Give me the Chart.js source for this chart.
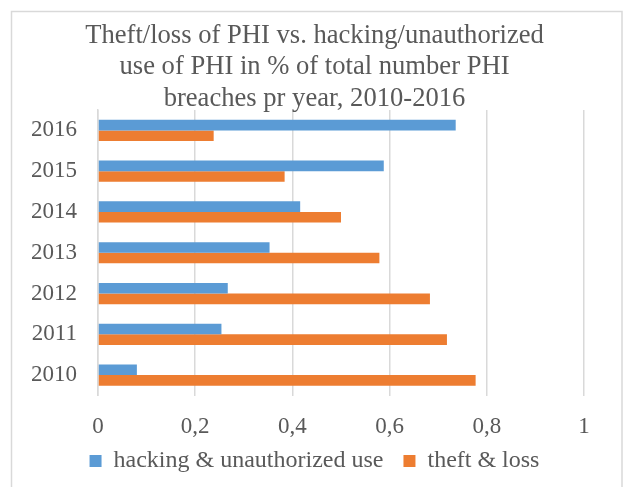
<!DOCTYPE html>
<html>
<head>
<meta charset="utf-8">
<script src="https://cdn.jsdelivr.net/npm/chart.js@4"></script>
<style>
  html, body { margin: 0; padding: 0; background: #fff; }
  #wrap { position: relative; width: 629px; height: 487px; }
</style>
</head>
<body>
<div id="wrap"><canvas id="breach-chart" width="629" height="487"></canvas></div>
<script>
"use strict";

const years = ['2016', '2015', '2014', '2013', '2012', '2011', '2010'];
const hackingShare = [0.736, 0.588, 0.416, 0.353, 0.267, 0.254, 0.080];
const theftShare = [0.238, 0.384, 0.500, 0.579, 0.683, 0.718, 0.777];
const xTicks = [0, 0.2, 0.4, 0.6, 0.8, 1];
const titleLines = [
  'Theft/loss of PHI vs. hacking/unauthorized',
  'use of PHI in % of total number PHI',
  'breaches pr year, 2010-2016'
];

const FONT = "'Liberation Serif', 'Times New Roman', serif";
const TEXT = '#595959';

// light frame round the whole chart, like the office chart border
const framePlugin = {
  id: 'frame',
  afterLayout(chart) {
    // let the x tick labels run past the squeezed axis box instead of being clipped
    chart.scales.x.bottom += 20;
  },
  beforeDraw(chart) {
    const ctx = chart.ctx;
    ctx.save();
    ctx.strokeStyle = '#d9d9d9';
    ctx.lineWidth = 1.5;
    ctx.beginPath();
    ctx.moveTo(11.5, 490);
    ctx.lineTo(11.5, 11.5);
    ctx.lineTo(622, 11.5);
    ctx.lineTo(622, 490);
    ctx.stroke();
    ctx.restore();
  }
};

const data = {
  labels: years,
  datasets: [
    {
      label: 'hacking & unauthorized use',
      data: hackingShare,
      backgroundColor: '#5b9bd5',
      borderWidth: 0
    },
    {
      label: 'theft & loss',
      data: theftShare,
      backgroundColor: '#ed7d31',
      borderWidth: 0
    }
  ]
};

const config = {
  type: 'bar',
  data,
  plugins: [framePlugin],
  options: {
    indexAxis: 'y',
    responsive: false,
    animation: false,
    categoryPercentage: 0.52,
    barPercentage: 1,
    layout: { padding: { top: 20, bottom: 4, left: 0, right: 0 } },
    plugins: {
      title: {
        display: true,
        text: titleLines,
        color: TEXT,
        font: { family: FONT, size: 26.6, weight: 'normal', lineHeight: 1.184 },
        padding: { top: 0, bottom: -4.5 }
      },
      legend: {
        display: true,
        position: 'bottom',
        labels: {
          color: TEXT,
          font: { family: FONT, size: 24 },
          boxWidth: 12,
          boxHeight: 12,
          padding: 20
        }
      },
      tooltip: { enabled: false }
    },
    scales: {
      x: {
        type: 'linear',
        min: 0,
        max: 1,
        afterBuildTicks(scale) {
          scale.ticks = xTicks.map(v => ({ value: v }));
        },
        afterFit(scale) { scale.height = 33.5; },
        grid: { color: '#d9d9d9', lineWidth: 1.5, drawTicks: false },
        border: { display: false },
        ticks: {
          color: TEXT,
          font: { family: FONT, size: 23 },
          padding: 18,
          callback: v => String(v).replace('.', ',')
        }
      },
      y: {
        afterFit(scale) { scale.width = 98; },
        grid: { display: false, drawTicks: false },
        border: { display: true, color: '#d9d9d9', width: 1.5 },
        ticks: {
          color: TEXT,
          font: { family: FONT, size: 23 },
          padding: 21
        }
      },
      y2: {
        position: 'right',
        afterFit(scale) { scale.width = 45; },
        grid: { display: false, drawTicks: false },
        border: { display: false },
        ticks: { display: false }
      }
    }
  }
};

new Chart(document.getElementById('breach-chart'), config);
</script>
</body>
</html>
